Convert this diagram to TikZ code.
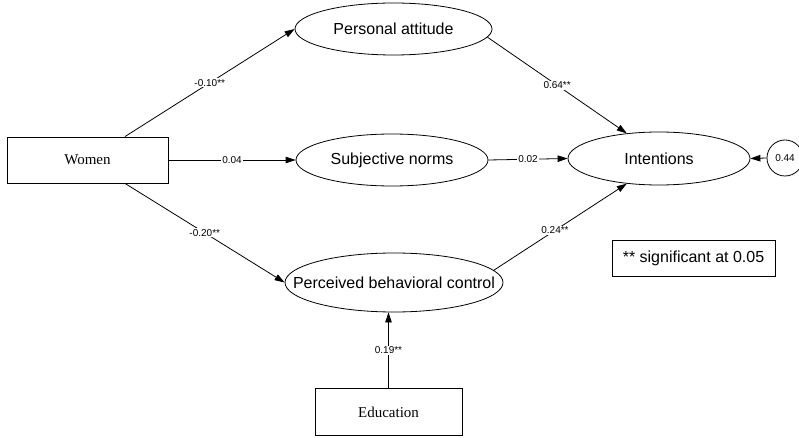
\documentclass[tikz,border=0pt]{standalone}
\usepackage{fontspec}
\setmainfont{Liberation Serif}
\newfontfamily\arialf{Liberation Sans}
\usetikzlibrary{shapes.geometric,arrows.meta}
\newcommand{\zw}[1]{\makebox[0pt]{#1}}
\begin{document}
\begin{tikzpicture}[x=1pt,y=-1pt,
  every path/.style={line width=0.8pt},
  latent/.style={ellipse,draw,inner sep=0pt,font=\arialf\fontsize{16}{19}\selectfont},
  obsbox/.style={rectangle,draw,inner sep=0pt,font=\fontsize{15}{18}\selectfont},
  resid/.style={circle,draw,inner sep=0pt,minimum size=36pt,font=\arialf\fontsize{10}{12}\selectfont},
  conn/.style={-{Triangle[length=10pt,width=6.5pt]}},
  coef/.style={fill=white,inner sep=1pt,font=\arialf\fontsize{10}{12}\selectfont}]
\useasboundingbox (0,0) rectangle (799,438);
\node[obsbox,minimum width=161pt,minimum height=46pt] (women) at (87.5,160) {Women};
\node[obsbox,minimum width=147pt,minimum height=47pt] (edu) at (388.5,412) {Education};
\node[latent,minimum width=197pt,minimum height=52pt] (pa) at (393.5,29) {\zw{Personal attitude}};
\node[latent,minimum width=192pt,minimum height=52pt] (sn) at (392,160) {\zw{Subjective norms}};
\node[latent,minimum width=218pt,minimum height=59pt] (pbc) at (394,282.5) {\zw{Perceived behavioral control}};
\node[latent,minimum width=182pt,minimum height=53pt] (int) at (659,158.5) {\zw{Intentions}};
\node[resid] (res) at (785,158) {\zw{0.44}};
\node[obsbox,font=\arialf\fontsize{16}{19}\selectfont,minimum width=163pt,minimum height=36pt] (sig) at (693.5,258) {** significant at 0.05};
\draw[conn] (women.32) -- node[coef] {-0.10**} (pa.west);
\draw[conn] (women.east) -- node[coef] {0.04} (sn.west);
\draw[conn] (women.-32) -- node[coef] {-0.20**} (pbc.west);
\draw[conn] (pa.-5) -- node[coef] {0.64**} (int.142);
\draw[conn] (sn.east) -- node[coef] {0.02} (int.west);
\draw[conn] (pbc.7) -- node[coef,pos=0.46] {0.24**} (int.218);
\draw[conn] (edu.north) -- node[coef] {0.19**} (edu.north |- pbc.south);
\draw[conn] (res.west) -- (int.east);
\end{tikzpicture}
\end{document}
